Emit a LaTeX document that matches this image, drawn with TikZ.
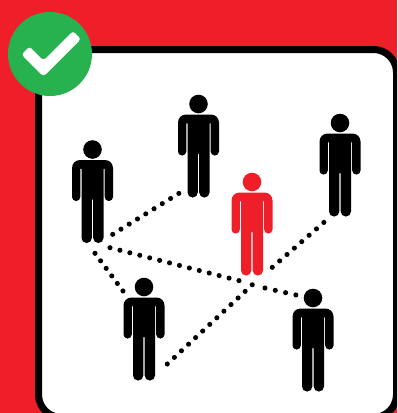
\documentclass[tikz,border=0pt]{standalone}
\definecolor{frameRed}{RGB}{238,31,41}
\definecolor{badgeGreen}{RGB}{39,178,79}
\def\manHeadR{9.3}
\begin{document}
\begin{tikzpicture}[
    x=1pt, y=-1pt,
    panelBox/.style ={fill=white, draw=black, line width=7pt, rounded corners=23pt},
    linkDots/.style ={draw=black, line width=5.1pt, line cap=round, dash pattern=on 0pt off #1},
    checkMark/.style={fill=white, rounded corners=3pt},
    manShape/.pic={
        \fill (0,0) circle[radius=\manHeadR];
        \fill[rounded corners=8pt] (0,10.5) -- (20.5,10.5)
            [rounded corners=4pt] -- (20.5,51.5) -- (12.2,51.5)
            [rounded corners=0.6pt] -- (12.2,19) -- (11,19)
            [rounded corners=5pt] -- (11,93.5) -- (0.7,93.5)
            [rounded corners=0pt] -- (0.7,50) -- (-0.7,50)
            [rounded corners=5pt] -- (-0.7,93.5) -- (-11,93.5)
            [rounded corners=0.6pt] -- (-11,19) -- (-12.2,19)
            [rounded corners=4pt] -- (-12.2,51.5) -- (-20.5,51.5)
            [rounded corners=8pt] -- (-20.5,10.5) -- cycle;
    },
]
\path[use as bounding box, clip] (0,0) rectangle (397,413);

% =====================================================
% Red ground and white panel
% =====================================================
\fill[frameRed] (0,0) rectangle (397,413);
\draw[panelBox] (38.5,49.5) rectangle (396.5,417.5);

% =====================================================
% Dotted links, broken where they pass the red man
% =====================================================
\coordinate (linkTopA)   at (112.7,234.3);
\coordinate (linkTopB)   at (179,193.3);
\coordinate (linkLongA)  at (110,247.7);
\coordinate (linkLongB)  at (239.3,280.7);
\coordinate (linkLongC)  at (265,288);
\coordinate (linkLongD)  at (296,295);
\coordinate (linkDownA)  at (95,253.3);
\coordinate (linkDownB)  at (123,291);
\coordinate (linkRiseA)  at (167.3,364);
\coordinate (linkRiseB)  at (252.3,284.7);
\coordinate (linkRiseC)  at (272.3,267.3);
\coordinate (linkRiseD)  at (324,222.3);

\draw[linkDots=9.72pt]  (linkTopA)  -- (linkTopB);
\draw[linkDots=10.24pt] (linkLongA) -- (linkLongB);
\draw[linkDots=10.55pt] (linkLongC) -- (linkLongD);
\draw[linkDots=9.38pt]  (linkDownA) -- (linkDownB);
\draw[linkDots=9.68pt]  (linkRiseA) -- (linkRiseB);
\draw[linkDots=9.76pt]  (linkRiseC) -- (linkRiseD);

% =====================================================
% People
% =====================================================
\pic[black]     (manLeft)   at (92.5,149.5) {manShape};
\pic[black]     (manTop)    at (198.5,104)  {manShape};
\pic[black]     (manRight)  at (340,123)    {manShape};
\pic[frameRed]  (manRed)    at (252,182)    {manShape};
\pic[black]     (manLow)    at (144,287)    {manShape};
\pic[black]     (manCorner) at (313,298)    {manShape};

% =====================================================
% Green badge
% =====================================================
\node[circle, fill=badgeGreen, minimum size=84pt, inner sep=0pt] (badge) at (50,54) {};
\fill[checkMark] (21.5,54.5) -- (29.5,46.5) -- (43.5,60.5) -- (73,31)
    -- (81,39) -- (43.5,76.5) -- cycle;

\end{tikzpicture}
\end{document}
